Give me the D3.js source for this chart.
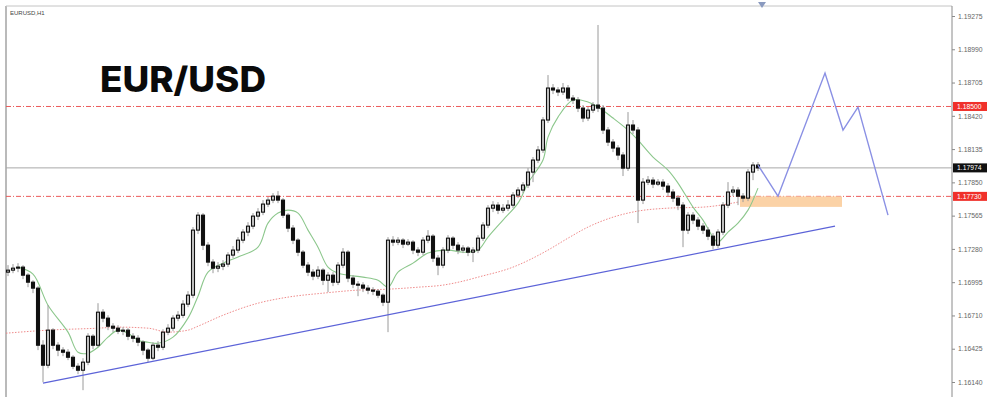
<!DOCTYPE html>
<html><head><meta charset="utf-8">
<script src="https://cdn.jsdelivr.net/npm/d3@7"></script>
<style>html,body{margin:0;padding:0;background:#fff;overflow:hidden}svg{display:block}</style>
</head><body>
<svg id="c" width="1000" height="413"></svg>
<script>
const symbolLabel = "EURUSD,H1";
const title = "EUR/USD";
const tickLabels = [1.16140,1.16425,1.16710,1.16995,1.17280,1.17565,1.17850,1.18135,1.18420,1.18705,1.18990,1.19275];
const firstOpen = 1.17081;
const closes = [1.17098,1.17115,1.17124,1.17055,1.16995,1.16944,1.16455,1.16284,1.16584,1.16455,
1.16413,1.16395,1.16352,1.16275,1.16241,1.16310,1.16532,1.16455,1.16738,1.16687,
1.16618,1.16601,1.16575,1.16584,1.16532,1.16515,1.16481,1.16413,1.16344,1.16455,
1.16438,1.16567,1.16601,1.16687,1.16712,1.16807,1.16884,1.17441,1.17569,1.17312,
1.17167,1.17115,1.17132,1.17150,1.17227,1.17270,1.17355,1.17424,1.17475,1.17561,
1.17595,1.17664,1.17698,1.17732,1.17698,1.17569,1.17458,1.17355,1.17252,1.17141,
1.17081,1.17047,1.17098,1.17012,1.17055,1.16995,1.17141,1.17252,1.17030,1.16978,
1.16970,1.16944,1.16927,1.16918,1.16884,1.16824,1.17355,1.17338,1.17355,1.17321,
1.17338,1.17270,1.17252,1.17355,1.17389,1.17201,1.17141,1.17270,1.17372,1.17312,
1.17270,1.17287,1.17252,1.17270,1.17372,1.17484,1.17629,1.17655,1.17612,1.17629,
1.17655,1.17741,1.17784,1.17827,1.17938,1.18041,1.18127,1.18384,1.18658,1.18641,
1.18624,1.18658,1.18572,1.18555,1.18486,1.18401,1.18469,1.18512,1.18486,1.18298,
1.18195,1.18144,1.18084,1.17972,1.18341,1.18298,1.17698,1.17852,1.17869,1.17835,
1.17852,1.17818,1.17767,1.17715,1.17655,1.17441,1.17569,1.17527,1.17475,1.17441,
1.17389,1.17312,1.17424,1.17655,1.17767,1.17784,1.17732,1.17715,1.17938,1.17998,
1.17974];
const highs = [1.17141,1.17150,1.17158,1.17141,1.17072,1.17012,1.16961,1.16498,1.16798,1.16601,
1.16481,1.16438,1.16421,1.16370,1.16301,1.16344,1.16558,1.16550,1.16815,1.16764,
1.16712,1.16644,1.16627,1.16610,1.16601,1.16558,1.16541,1.16498,1.16430,1.16481,
1.16490,1.16592,1.16635,1.16712,1.16747,1.16841,1.16918,1.17467,1.17595,1.17587,
1.17338,1.17192,1.17167,1.17184,1.17252,1.17304,1.17381,1.17449,1.17509,1.17587,
1.17629,1.17698,1.17724,1.17758,1.17775,1.17715,1.17587,1.17484,1.17372,1.17270,
1.17167,1.17107,1.17132,1.17115,1.17081,1.17081,1.17167,1.17287,1.17270,1.17055,
1.17004,1.16995,1.16970,1.16952,1.16935,1.16901,1.17381,1.17389,1.17381,1.17372,
1.17364,1.17355,1.17295,1.17381,1.17441,1.17407,1.17227,1.17295,1.17398,1.17389,
1.17338,1.17312,1.17304,1.17295,1.17398,1.17509,1.17655,1.17689,1.17681,1.17664,
1.17698,1.17767,1.17809,1.17852,1.17972,1.18067,1.18161,1.18409,1.18769,1.18692,
1.18666,1.18701,1.18684,1.18598,1.18581,1.18512,1.18495,1.18538,1.19198,1.18512,
1.18324,1.18221,1.18169,1.18109,1.18452,1.18384,1.18324,1.17887,1.17904,1.17895,
1.17878,1.17878,1.17844,1.17792,1.17741,1.17681,1.17595,1.17595,1.17552,1.17501,
1.17467,1.17415,1.17449,1.17681,1.17852,1.17818,1.17809,1.17758,1.17964,1.18024,
1.18024];
const lows = [1.17047,1.17072,1.17081,1.17021,1.16952,1.16901,1.16413,1.16138,1.16258,1.16421,
1.16361,1.16361,1.16327,1.16250,1.16207,1.16070,1.16284,1.16421,1.16438,1.16652,
1.16584,1.16567,1.16550,1.16541,1.16498,1.16481,1.16447,1.16370,1.16310,1.16327,
1.16404,1.16413,1.16541,1.16575,1.16661,1.16687,1.16781,1.16858,1.17407,1.17270,
1.17132,1.17072,1.17081,1.17098,1.17124,1.17201,1.17244,1.17329,1.17389,1.17449,
1.17527,1.17569,1.17638,1.17672,1.17672,1.17544,1.17424,1.17321,1.17218,1.17115,
1.17047,1.17012,1.17021,1.16970,1.16910,1.16961,1.16970,1.17115,1.16995,1.16944,
1.16875,1.16910,1.16892,1.16884,1.16858,1.16790,1.16567,1.17304,1.17312,1.17287,
1.17304,1.17235,1.17218,1.17227,1.17329,1.17167,1.17055,1.17115,1.17244,1.17278,
1.17235,1.17244,1.17218,1.17167,1.17244,1.17347,1.17458,1.17595,1.17578,1.17587,
1.17604,1.17629,1.17715,1.17758,1.17801,1.17852,1.18015,1.18101,1.18358,1.18606,
1.18589,1.18598,1.18546,1.18521,1.18452,1.18366,1.18375,1.18444,1.18452,1.18264,
1.18161,1.18109,1.18041,1.17904,1.17947,1.18264,1.17501,1.17664,1.17827,1.17801,
1.17818,1.17784,1.17732,1.17681,1.17612,1.17295,1.17407,1.17492,1.17441,1.17407,
1.17355,1.17278,1.17287,1.17398,1.17629,1.17732,1.17655,1.17681,1.17689,1.17869,
1.17947];
const fastMABar = [2,5,8,12,14,16,18,20,22,24,26,28,30,33,36,38,40,43,46,50,52,54,56,58,60,62,64,66,68,71,74,76,78,81,84,88,91,94,96,99,102,104,107,108,110,113,116,118,121,124,126,129,132,134,137,139,141,142,144,146,148,150];
const fastMA = [1.17124,1.17064,1.16798,1.16567,1.16395,1.16387,1.16438,1.16524,1.16584,1.16558,1.16498,1.16481,1.16472,1.16524,1.16687,1.16875,1.17081,1.17158,1.17210,1.17295,1.17501,1.17587,1.17612,1.17587,1.17441,1.17295,1.17124,1.17072,1.17055,1.17038,1.17012,1.16952,1.17081,1.17158,1.17244,1.17270,1.17252,1.17270,1.17381,1.17527,1.17672,1.17844,1.18041,1.18238,1.18409,1.18555,1.18538,1.18495,1.18401,1.18298,1.18212,1.18067,1.17955,1.17844,1.17638,1.17527,1.17381,1.17338,1.17424,1.17501,1.17612,1.17801];
const slowMABar = [-0.4,8,18,22,28,32,36,38,43,50,56,63,70,76,82,87,91,94,101,108,112,116,121,126,132,139,146];
const slowMA = [1.16558,1.16584,1.16601,1.16610,1.16601,1.16567,1.16584,1.16618,1.16712,1.16815,1.16867,1.16901,1.16927,1.16935,1.16952,1.16970,1.17004,1.17038,1.17124,1.17270,1.17372,1.17467,1.17552,1.17604,1.17629,1.17638,1.17681];
const levels = [1.18500, 1.17730];
const currentPrice = 1.17974;
const trendBar = [7, 165.4];
const trendPrice = [1.16130, 1.17475];
const projBar = [150, 154, 163.4, 167, 170, 176];
const projPrice = [1.17998, 1.17732, 1.18786, 1.18298, 1.18495, 1.17569];
const zoneBar = [146.4, 166.8];
const zonePrice = [1.17640, 1.17730];

const svg = d3.select("#c");
const x = d3.scaleLinear().domain([0, 150]).range([8, 758]);
const y = d3.scaleLinear().domain([1.16140, 1.19275]).range([382, 16]);
const L = 6, R = 952, T = 6, B = 397;

// frame
svg.append("line").attr("x1",L).attr("x2",L).attr("y1",T).attr("y2",B).attr("stroke","#a9a9a9").attr("stroke-width",1.6);
svg.append("line").attr("x1",L).attr("x2",R).attr("y1",T).attr("y2",T).attr("stroke","#c4c4c4").attr("stroke-width",1);
svg.append("line").attr("x1",R).attr("x2",R).attr("y1",T).attr("y2",B).attr("stroke","#8a8a8a").attr("stroke-width",1);

svg.append("text").attr("x",10).attr("y",15).text(symbolLabel)
  .attr("font-family","Liberation Sans, Arial").attr("font-size",6).attr("fill","#444");

// top marker
svg.append("path").attr("d","M758,2 L766,2 L762,8 Z").attr("fill","#8a9abf");

// title
svg.append("text").attr("x",100).attr("y",92).text(title)
  .attr("font-family","Inter, Open Sans, sans-serif").attr("font-weight",800)
  .attr("font-size",35).attr("fill","#0a0a0a").attr("textLength",166).attr("lengthAdjust","spacingAndGlyphs");

// horizontal lines
svg.append("line").attr("x1",L).attr("x2",R).attr("y1",y(currentPrice)).attr("y2",y(currentPrice))
  .attr("stroke","#a8a8a8").attr("stroke-width",1);
svg.selectAll(".lvl").data(levels).enter().append("line")
  .attr("x1",L).attr("x2",R).attr("y1",d=>y(d)).attr("y2",d=>y(d))
  .attr("stroke","#ec5a5a").attr("stroke-width",1).attr("stroke-dasharray","5,2,1,2");

// zone
svg.append("rect").attr("x",x(zoneBar[0])).attr("width",x(zoneBar[1])-x(zoneBar[0]))
  .attr("y",y(zonePrice[1])).attr("height",y(zonePrice[0])-y(zonePrice[1]))
  .attr("fill","#fbd2a6");

// slow MA (dotted red)
const slowPts = slowMABar.map((b,i)=>[x(b), y(slowMA[i])]);
svg.append("path").attr("d", d3.line().curve(d3.curveMonotoneX)(slowPts))
  .attr("fill","none").attr("stroke","#ef8a8a").attr("stroke-width",1).attr("stroke-dasharray","1.5,1.5");

// fast MA (green)
const fastPts = fastMABar.map((b,i)=>[x(b), y(fastMA[i])]);
svg.append("path").attr("d", d3.line().curve(d3.curveCatmullRom)(fastPts))
  .attr("fill","none").attr("stroke","#8cc78c").attr("stroke-width",1.1);

// candles
const data = closes.map((c,i)=>({i, o: i===0 ? firstOpen : closes[i-1], h: highs[i], l: lows[i], c}));
const g = svg.append("g");
g.selectAll(".wick").data(data).enter().append("line")
  .attr("x1",d=>x(d.i)).attr("x2",d=>x(d.i)).attr("y1",d=>y(d.h)).attr("y2",d=>y(d.l))
  .attr("stroke","#9a9a9a").attr("stroke-width",1);
g.selectAll(".body").data(data).enter().append("rect")
  .attr("x",d=>x(d.i)-1.5).attr("width",3)
  .attr("y",d=>y(Math.max(d.o,d.c)))
  .attr("height",d=>Math.max(1, Math.abs(y(d.o)-y(d.c))))
  .attr("fill",d=>d.c>=d.o ? "#c8c8c8" : "#111")
  .attr("stroke","#111").attr("stroke-width",1.1);

// trend line
svg.append("line").attr("x1",x(trendBar[0])).attr("y1",y(trendPrice[0]))
  .attr("x2",x(trendBar[1])).attr("y2",y(trendPrice[1]))
  .attr("stroke","#5c63d8").attr("stroke-width",1.2);

// projection
svg.append("path").attr("d", d3.line()(projBar.map((b,i)=>[x(b), y(projPrice[i])])))
  .attr("fill","none").attr("stroke","#8a90e4").attr("stroke-width",1.4);

// axis
const axis = d3.axisRight(y).tickValues(tickLabels).tickSize(3).tickFormat(d3.format(".5f"));
const ag = svg.append("g").attr("transform",`translate(${R},0)`).call(axis);
ag.select(".domain").remove();
ag.selectAll(".tick line").attr("stroke","#8a8a8a");
ag.selectAll(".tick text").attr("x",6).attr("font-family","Liberation Sans, Arial")
  .attr("font-size",6.8).attr("fill","#666");

// price tags
function tag(v, bg){
  const gg = svg.append("g");
  gg.append("rect").attr("x",R+1).attr("y",y(v)-4.5).attr("width",34).attr("height",9).attr("fill",bg);
  gg.append("text").attr("x",R+5).attr("y",y(v)+2.4).text(d3.format(".5f")(v))
    .attr("font-family","Liberation Sans, Arial").attr("font-size",6.8).attr("fill","#fff");
}
levels.forEach(v=>tag(v,"#f0302a"));
tag(currentPrice,"#111");
</script>
</body></html>
